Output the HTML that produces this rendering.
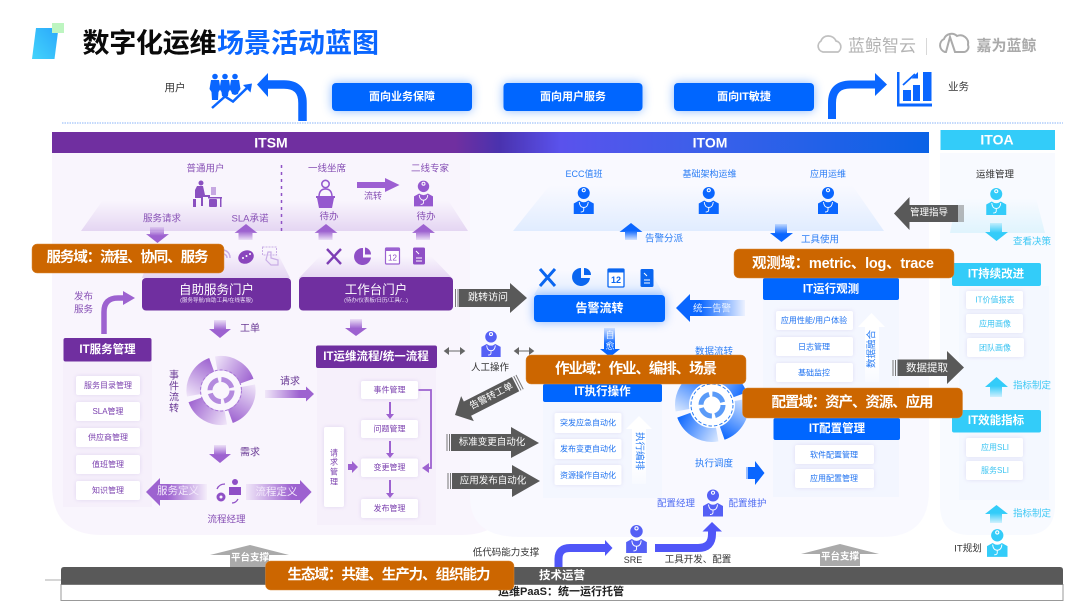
<!DOCTYPE html>
<html lang="zh">
<head>
<meta charset="utf-8">
<title>数字化运维场景活动蓝图</title>
<style>
html,body{margin:0;padding:0;background:#fff;width:1080px;height:608px;overflow:hidden}
svg{display:block;filter:blur(.3px)}
text{font-family:"Liberation Sans","Noto Sans CJK SC",sans-serif;text-anchor:middle;dominant-baseline:central}
.p{fill:#8750b5}
.b{fill:#2a7df5}
.c{fill:#3cc8f5}
.k{fill:#333}
.w{fill:#fff;font-weight:700}
.hp{fill:#702fa0}
.hb{fill:#0066ff}
.hc{fill:#33ccf9}
.item{fill:#fff;filter:drop-shadow(0 0 2px rgba(120,90,190,.16))}
.ip{fill:#7a3fae;font-size:8px}
.ib{fill:#1f72f0;font-size:8px}
.ic{fill:#3cc4f2;font-size:8px}
.glow{filter:drop-shadow(0 0 5px rgba(0,102,255,.45))}
.gw{fill:#fff}
.co{fill:#cc6600;stroke:#d98a3a;stroke-width:.5}
.cot{fill:#fff;font-size:14.5px;font-weight:700}
</style>
</head>
<body>
<svg xmlns="http://www.w3.org/2000/svg" width="1080" height="608" viewBox="0 0 1080 608" font-size="9.5">
<defs>
<linearGradient id="bar" x1="0" x2="1" y1="0" y2="0">
<stop offset="0" stop-color="#702fa0"/><stop offset=".46" stop-color="#702fa0"/><stop offset=".51" stop-color="#4a32ae"/><stop offset=".58" stop-color="#5a52ec"/><stop offset=".75" stop-color="#3a60ea"/><stop offset="1" stop-color="#0a62e6"/>
</linearGradient>
<linearGradient id="logo" x1="0" x2="1" y1="1" y2="0"><stop offset="0" stop-color="#44d4fb"/><stop offset="1" stop-color="#2aa8fb"/></linearGradient>
<linearGradient id="trP" x1="0" x2="0" y1="0" y2="1"><stop offset="0" stop-color="#e6d8f3" stop-opacity="0"/><stop offset="1" stop-color="#e4d5f2"/></linearGradient>
<linearGradient id="trB" x1="0" x2="0" y1="0" y2="1"><stop offset="0" stop-color="#e1edff" stop-opacity="0"/><stop offset="1" stop-color="#e0ecff"/></linearGradient>
<linearGradient id="trC" x1="0" x2="0" y1="0" y2="1"><stop offset="0" stop-color="#dff4fd" stop-opacity="0"/><stop offset="1" stop-color="#dff4fd"/></linearGradient>
<linearGradient id="dP" x1="0" x2="0" y1="0" y2="1"><stop offset="0" stop-color="#a066d2" stop-opacity=".15"/><stop offset=".55" stop-color="#9d62d0"/></linearGradient>
<linearGradient id="uP" x1="0" x2="0" y1="1" y2="0"><stop offset="0" stop-color="#a066d2" stop-opacity=".15"/><stop offset=".55" stop-color="#9d62d0"/></linearGradient>
<linearGradient id="dB" x1="0" x2="0" y1="0" y2="1"><stop offset="0" stop-color="#0a66ff" stop-opacity=".15"/><stop offset=".55" stop-color="#0a66ff"/></linearGradient>
<linearGradient id="uB" x1="0" x2="0" y1="1" y2="0"><stop offset="0" stop-color="#0a66ff" stop-opacity=".15"/><stop offset=".55" stop-color="#0a66ff"/></linearGradient>
<linearGradient id="dC" x1="0" x2="0" y1="0" y2="1"><stop offset="0" stop-color="#33ccf9" stop-opacity=".2"/><stop offset=".55" stop-color="#33ccf9"/></linearGradient>
<linearGradient id="uC" x1="0" x2="0" y1="1" y2="0"><stop offset="0" stop-color="#33ccf9" stop-opacity=".2"/><stop offset=".55" stop-color="#33ccf9"/></linearGradient>
<linearGradient id="rP" x1="0" x2="1" y1="0" y2="0"><stop offset="0" stop-color="#a066d2" stop-opacity=".1"/><stop offset=".7" stop-color="#9d62d0"/></linearGradient>
<linearGradient id="lP" x1="1" x2="0" y1="0" y2="0"><stop offset="0" stop-color="#a066d2" stop-opacity=".05"/><stop offset=".65" stop-color="#9d62d0"/></linearGradient>
<linearGradient id="lB" x1="1" x2="0" y1="0" y2="0"><stop offset="0" stop-color="#0a66ff" stop-opacity=".05"/><stop offset=".65" stop-color="#0a66ff"/></linearGradient>
<linearGradient id="uW" x1="0" x2="0" y1="1" y2="0"><stop offset="0" stop-color="#fff" stop-opacity=".3"/><stop offset=".3" stop-color="#fff"/></linearGradient>
<linearGradient id="arcP" gradientUnits="userSpaceOnUse" x1="-22" x2="22" y1="0" y2="0"><stop offset="0" stop-color="#f0e6f9"/><stop offset="1" stop-color="#9d62d0"/></linearGradient>
<linearGradient id="arcB" gradientUnits="userSpaceOnUse" x1="-22" x2="22" y1="0" y2="0"><stop offset="0" stop-color="#dbe9ff"/><stop offset="1" stop-color="#0a66ff"/></linearGradient>
<symbol id="doc" viewBox="0 0 20 27">
<circle cx="10" cy="6" r="6" fill="currentColor"/>
<circle cx="10" cy="3.200" r="2.100" fill="#fff"/><circle cx="10" cy="3.200" r="1" fill="currentColor"/>
<path d="M0 27V16.500L5.500 13.500Q10 17 14.500 13.500L20 16.500V27z" fill="currentColor"/>
<path d="M5.500 15q.5 5.500 4.500 5.500t4.500-5.500M10 20.500v2.500q0 2-3 2" fill="none" stroke="#fff" stroke-width=".9"/>
</symbol>
<path id="arc" d="M-17.400,-20.700A27,27 0 0 1 17.400,-20.700" fill="none" stroke-width="15"/>
</defs>

<rect width="1080" height="608" fill="#fff"/>

<!-- panels -->
<path d="M52 153H511V485q0 50-50 50H102q-50 0-50-50z" fill="#f9f5fd"/>
<path d="M470 153H929V490q0 47-47 47H520q-50 0-50-40z" fill="#f8f9ff" fill-opacity=".92"/>
<path d="M940 153H1055V505q0 30-30 30H970q-30 0-30-30z" fill="#f8faff"/>
<rect x="63" y="361" width="89" height="146" fill="#f6f0fb"/>
<rect x="317" y="368" width="119" height="157" fill="#f6f0fb"/>
<rect x="543" y="402" width="119" height="96" fill="#f4f7ff"/>
<rect x="763" y="300" width="136" height="96" fill="#f4f7ff"/>
<rect x="773" y="440" width="126" height="57" fill="#f3f6ff"/>
<rect x="959" y="286" width="90" height="214" fill="#f4f8ff"/>

<!-- trapezoids -->
<path d="M103 200H448L468 231H81z" fill="url(#trP)"/>
<path d="M550 185H852L884 231H513z" fill="url(#trB)"/>
<path d="M957 198H1036L1045 233H950z" fill="url(#trC)"/>
<path d="M152 250H276L290 278H142z" fill="url(#trP)"/>
<path d="M320 256H431L452 278H299z" fill="url(#trP)"/>
<path d="M548 270H650L664 295H534z" fill="url(#trB)"/>

<!-- header -->
<path d="M36 28H58.500L54.500 59H32z" fill="url(#logo)"/>
<rect x="52" y="23" width="12" height="10" fill="#bdf5c0"/>
<text x="149.500" y="43.500" font-size="27" font-weight="700" fill="#0a0a0a" textLength="134">数字化运维</text>
<text x="298" y="43.500" font-size="27" font-weight="700" fill="#0a66ff" textLength="162">场景活动蓝图</text>

<path d="M823 52a6 6 0 0 1-2-11a7 7 0 0 1 7-5a8 8 0 0 1 8 5a6 6 0 0 1 2 11z" fill="none" stroke="#c0c0c0" stroke-width="1.700"/>
<text x="882" y="46" font-size="17" fill="#b4b4b4" textLength="68">蓝鲸智云</text>
<rect x="926" y="38" width="1" height="17" fill="#d8d8d8"/>
<path d="M945 52a7 7 0 0 1-1-13a8 8 0 0 1 13-3a8 8 0 0 1 11 9a5 5 0 0 1-5 7h-8l-5-15-4 15z" fill="none" stroke="#ababab" stroke-width="2"/>
<text x="1006.500" y="46" font-size="15" font-weight="700" fill="#aaa" textLength="60">嘉为蓝鲸</text>

<text x="175" y="88" class="k" font-size="10.500">用户</text>
<g fill="#0a66ff">
<circle cx="215" cy="76.500" r="2.800"/><path d="M211 80h8l1.500 9-2 3-.5 8h-6l-.5-8-2-3z"/>
<circle cx="225" cy="76.500" r="2.800"/><path d="M221 80h8l1.500 9-2 3-.5 4-3 1.500-3-1.500-.5-4-2-3z"/>
<circle cx="235" cy="76.500" r="2.800"/><path d="M231 80h8l1.500 9-2 3-.5 2-3 1-3-1-.5-2-2-3z"/>
</g>
<path d="M212 108L225 96.500 233 101.500 249 86" fill="none" stroke="#0a66ff" stroke-width="2.500"/>
<path d="M252 83.500l-1.500 9-7.500-7.500z" fill="#0a66ff"/>

<path d="M302.500 121V103q0-18.500-18.500-18.500H266" fill="none" stroke="#0a66ff" stroke-width="8.500"/>
<path d="M257 84.500L268 73V97z" fill="#0a66ff"/>
<path d="M832 119V103q0-18.500 18.500-18.500H877" fill="none" stroke="#0a66ff" stroke-width="8"/>
<path d="M887 84.500L875 73V96z" fill="#0a66ff"/>
<g fill="#0a66ff">
<path d="M897 72h2.500V103.500H932v3H897z"/><rect x="903" y="90" width="8" height="11"/><rect x="913" y="85" width="7" height="16"/><rect x="923" y="72" width="8.500" height="29"/>
<path d="M903 85L915 74" stroke="#0a66ff" stroke-width="1.800"/><path d="M918 72v6.500h-6.500z"/>
</g>
<text x="958.500" y="87" class="k" font-size="10.500">业务</text>

<g class="glow" fill="#0066ff">
<rect x="332" y="83" width="140" height="28" rx="4"/>
<rect x="503.500" y="83" width="139" height="28" rx="4"/>
<rect x="674" y="83" width="140" height="28" rx="4"/>
</g>
<text x="402" y="97" font-size="11" class="w">面向业务保障</text>
<text x="573" y="97" font-size="11" class="w">面向用户服务</text>
<text x="744" y="97" font-size="11" class="w">面向IT敏捷</text>

<line x1="62" y1="123" x2="1063" y2="123" stroke="#8ab4f8" stroke-width="1" stroke-dasharray="1.500 1"/>

<!-- bars -->
<rect x="52" y="132" width="877" height="21" fill="url(#bar)"/>
<text x="271" y="142.500" font-size="14" class="w">ITSM</text>
<text x="710" y="142.500" font-size="14" class="w">ITOM</text>
<rect x="940.500" y="130" width="114.500" height="20" fill="#33ccf9"/>
<text x="997" y="139.500" font-size="14" class="w">ITOA</text>

<!-- ITSM top -->
<text x="205.500" y="169" class="p">普通用户</text>
<text x="327" y="169" class="p">一线坐席</text>
<text x="430" y="169" class="p">二线专家</text>
<g fill="#8a50c0">
<circle cx="201" cy="183" r="2.500"/><path d="M197 186h6l2 9h5v2h-7v9h-2v-8h-6v-8z"/><path d="M193 186v13h3v8h-3z"/>
<rect x="208" y="197" width="14" height="1.500"/><rect x="220" y="197" width="1.500" height="10"/><rect x="209" y="199" width="8" height="8" rx="1"/><rect x="211" y="187" width="5" height="8" fill="#c7a8e2"/>
</g>
<line x1="281.500" y1="165" x2="281.500" y2="234" stroke="#8f52c6" stroke-width="1.500" stroke-dasharray="3 4"/>
<circle cx="325.500" cy="184" r="3.700" fill="none" stroke="#9558cf" stroke-width="1.600"/>
<path d="M319 197q0-8 6.500-8t6.500 8z" fill="none" stroke="#9558cf" stroke-width="1.500"/>
<path d="M316 196h19v2h-1l-2 10h-13l-2-10h-1z" fill="#9558cf"/>
<path d="M357 182h28v-4l14.500 7-14.500 7v-4h-28z" fill="#9d5fd2"/>
<text x="373" y="196" class="p" font-size="9">流转</text>
<use href="#doc" x="414" y="180" width="19" height="27" color="#9558cf"/>
<text x="162" y="219" class="p">服务请求</text>
<text x="250" y="219" class="p">SLA承诺</text>
<text x="329" y="217" class="p">待办</text>
<text x="426" y="217" class="p">待办</text>
<path d="M150 227h14v7h5l-11.500 9L146 234h4z" fill="url(#dP)"/>
<path d="M238.500 240h14v-7h5l-11.500-9L234.500 233h4z" fill="url(#uP)"/>
<path d="M318.500 240h14v-7h5l-11.500-9L314.500 233h4z" fill="url(#uP)"/>
<path d="M416 240h14v-7h5l-11.500-9L412 233h4z" fill="url(#uP)"/>

<!-- ITSM icon row -->
<path d="M224 250q6 2 6 8" fill="none" stroke="#c9aee6" stroke-width="1.500"/>
<path d="M224 254q3 1 3 4" fill="none" stroke="#c9aee6" stroke-width="1.500"/>
<ellipse cx="246" cy="257" rx="8" ry="6.500" fill="#8a45bd" transform="rotate(-25 246 257)"/>
<g fill="#fff"><circle cx="243" cy="258" r="1"/><circle cx="246.500" cy="256" r="1"/><circle cx="250" cy="254" r="1"/></g>
<rect x="262.500" y="247" width="14" height="8" fill="none" stroke="#c9aee6" stroke-width="1" stroke-dasharray="2 1"/>
<path d="M268 252h3v6l7 2v5h-7l-5-5z" fill="none" stroke="#c9aee6" stroke-width="1.200"/>
<g fill="none" stroke="#7e3fb5" stroke-width="2.400">
<path d="M327 249l14 15M341 249l-14 15"/>
</g>
<path d="M363 248a8.500 8.500 0 1 0 8 9.500h-8z" fill="#8f4fc6"/><path d="M365 247.500a7 7 0 0 1 6 7h-6z" fill="#8f4fc6"/>
<rect x="385.500" y="248" width="14" height="16" fill="#fff" stroke="#9b62d1" stroke-width="1.200" rx="1"/><rect x="385.500" y="248" width="14" height="3" fill="#9b62d1"/>
<text x="392.500" y="258" font-size="8" fill="#8f4fc6">12</text>
<rect x="413" y="247.500" width="12" height="17" rx="1.500" fill="#8f4fc6"/><path d="M416 251l3 3M416 258h6M416 261h6" stroke="#fff" stroke-width="1"/>

<!-- portals -->
<rect x="142" y="278" width="149" height="32.500" rx="4" class="hp"/>
<rect x="299" y="277" width="154" height="33.500" rx="4" class="hp"/>
<text x="216.500" y="290" font-size="12.500" fill="#fff">自助服务门户</text>
<text x="216.500" y="301" font-size="5.500" fill="#ecdff6">(服务导航/自助工具/在线客服)</text>
<text x="376" y="290" font-size="12.500" fill="#fff">工作台门户</text>
<text x="376" y="301" font-size="5.500" fill="#ecdff6">(待办/仪表板/日历/工具/...)</text>

<text x="83.500" y="297" class="p" font-size="9.500">发布</text>
<text x="83.500" y="310" class="p" font-size="9.500">服务</text>
<path d="M104 334V312q0-14 14-14h6" fill="none" stroke="#9d62d0" stroke-width="5.500"/>
<path d="M135 298L123 291V305z" fill="#9d62d0"/>

<rect x="63.500" y="338" width="88" height="23.500" rx="2" class="hp"/>
<text x="107.500" y="350" font-size="11.500" class="w">IT服务管理</text>
<g class="item">
<rect x="76" y="376" width="64" height="19" rx="2"/><rect x="76" y="402" width="64" height="19" rx="2"/><rect x="76" y="428" width="64" height="19" rx="2"/><rect x="76" y="455" width="64" height="19" rx="2"/><rect x="76" y="481" width="64" height="19" rx="2"/>
</g>
<text x="108" y="385.500" class="ip">服务目录管理</text>
<text x="108" y="411.500" class="ip">SLA管理</text>
<text x="108" y="437.500" class="ip">供应商管理</text>
<text x="108" y="464.500" class="ip">值班管理</text>
<text x="108" y="490.500" class="ip">知识管理</text>

<path d="M214 320h12v9h5l-11 9-11-9h5z" fill="url(#dP)"/>
<text x="250" y="329" class="p" font-size="10" style="fill:#6a3a95">工单</text>
<path d="M350 319h12v9h5l-11 8-11-8h5z" fill="url(#dP)"/>
<path d="M214 445h12v9h5l-11 9-11-9h5z" fill="url(#dP)"/>
<text x="250" y="453" class="p" font-size="10" style="fill:#6a3a95">需求</text>
<g class="p" font-size="10" style="fill:#6a3a95"><text x="174" y="376">事</text><text x="174" y="387">件</text><text x="174" y="398">流</text><text x="174" y="409">转</text></g>

<!-- purple ring -->
<g transform="translate(221 390.500)">
<g stroke="url(#arcP)">
<use href="#arc" transform="rotate(30)"/><use href="#arc" transform="rotate(120)"/><use href="#arc" transform="rotate(210)"/><use href="#arc" transform="rotate(300)"/>
</g>
<circle r="20" fill="#faf6fd"/>
<circle r="20.500" fill="none" stroke="#a877d6" stroke-width="1" stroke-dasharray="3 2"/>
<circle r="11" fill="none" stroke="#b48ade" stroke-width="5" stroke-dasharray="14 3.300"/>
</g>

<path d="M265 390h41v-3.500L314 394l-8 7.500V398h-41z" fill="url(#rP)"/>
<text x="290" y="382" class="p" font-size="10" style="fill:#6a3a95">请求</text>

<rect x="316" y="345.500" width="121" height="22.500" rx="2" class="hp"/>
<text x="376" y="357" font-size="11.500" class="w">IT运维流程/统一流程</text>
<g class="item">
<rect x="361" y="381" width="57" height="18" rx="2"/><rect x="361" y="420" width="57" height="18" rx="2"/><rect x="361" y="458.500" width="57" height="18.500" rx="2"/><rect x="361" y="499" width="57" height="19" rx="2"/>
<rect x="324" y="427" width="20" height="80" rx="2"/>
</g>
<text x="389.500" y="390" class="ip">事件管理</text>
<text x="389.500" y="429" class="ip">问题管理</text>
<text x="389.500" y="467.500" class="ip">变更管理</text>
<text x="389.500" y="508.500" class="ip">发布管理</text>
<g class="ip"><text x="334" y="453">请</text><text x="334" y="462">求</text><text x="334" y="472">管</text><text x="334" y="482">理</text></g>
<g fill="#9d62d0">
<path d="M389 402h2v12h3l-4 5-4-5h3z"/><path d="M389 441h2v12h3l-4 5-4-5h3z"/><path d="M389 480h2v13h3l-4 5-4-5h3z"/>
<path d="M348 464h4v-3l6 6-6 6v-3h-4z"/>
<path d="M422 468l7-5v10z"/>
</g>
<path d="M418.500 390H431V468h-6" fill="none" stroke="#9d62d0" stroke-width="1.800"/>

<path d="M146 492L160 478V484H207V500H160V506z" fill="url(#lP)"/>
<text x="178" y="491" font-size="10.500" fill="#f3e9fb">服务定义</text>
<g fill="#8f4fc6">
<circle cx="235" cy="482" r="3"/><path d="M229 487h12v8h-12z"/>
<circle cx="221" cy="497" r="4.500"/><circle cx="221" cy="497" r="1.500" fill="#f9f5fd"/>
</g>
<path d="M217 489q2-5 8-5M232 503q4 0 6-4" fill="none" stroke="#8f4fc6" stroke-width="1.300"/>
<path d="M311.600 492L300 480V484H246V500H300V504z" fill="url(#rP)"/>
<text x="276.500" y="492" font-size="10.500" fill="#f3e9fb">流程定义</text>
<text x="226.500" y="520" class="p" font-size="9.500">流程经理</text>

<!-- ITOM top -->
<text x="584" y="174" class="b" font-size="9">ECC值班</text>
<text x="709.500" y="174" class="b" font-size="9">基础架构运维</text>
<text x="828" y="174" class="b" font-size="9">应用运维</text>
<use href="#doc" x="573.500" y="187" width="20.500" height="27" color="#0a66ff"/>
<use href="#doc" x="698.500" y="187" width="20.500" height="27" color="#0a66ff"/>
<use href="#doc" x="817.500" y="187" width="21" height="27" color="#0a66ff"/>
<path d="M625 240h12v-8h5.500L631 223l-11.500 9H625z" fill="url(#uB)"/>
<text x="664" y="239" class="b">告警分派</text>
<path d="M775 224h12v9h6l-11.500 9-11.500-9h5z" fill="url(#dB)"/>
<text x="820" y="240" class="b">工具使用</text>

<path d="M894 213.500L909.500 197V205H958V222H909.500V230z" fill="#595959"/>
<path d="M959 205v17M961 205v17M963 205v17" stroke="#777" stroke-width="1"/>
<text x="929" y="213" class="gw" font-size="9.500">管理指导</text>

<!-- ITOA -->
<text x="995" y="175" class="k" font-size="9.500">运维管理</text>
<use href="#doc" x="986" y="188" width="20.500" height="27" color="#33ccf9"/>
<path d="M990 223h12v9h6l-11.500 9-11.500-9h5z" fill="url(#dC)"/>
<text x="1032" y="242" class="c">查看决策</text>
<rect x="952" y="263" width="89" height="23" rx="2" class="hc"/>
<text x="996" y="274.500" font-size="11.500" class="w">IT持续改进</text>
<g class="item">
<rect x="966" y="291" width="57" height="18" rx="2"/><rect x="966" y="314" width="57" height="19" rx="2"/><rect x="967" y="338" width="57" height="19" rx="2"/>
<rect x="966" y="438" width="57" height="19" rx="2"/><rect x="966" y="461" width="57" height="19" rx="2"/>
</g>
<text x="995" y="300" class="ic">IT价值报表</text>
<text x="995" y="324" class="ic">应用画像</text>
<text x="995" y="348" class="ic">团队画像</text>
<text x="995" y="447.500" class="ic">应用SLI</text>
<text x="995" y="470.500" class="ic">服务SLI</text>
<path d="M990 397h12v-10h6l-11.500-10-11.500 10h5z" fill="url(#uC)"/>
<text x="1032" y="386" class="c">指标制定</text>
<rect x="952" y="410" width="89" height="22.500" rx="2" class="hc"/>
<text x="996" y="421" font-size="11.500" class="w">IT效能指标</text>
<path d="M990 523h12v-9h6l-11.500-9-11.500 9h5z" fill="url(#uC)"/>
<text x="1032" y="514" class="c">指标制定</text>
<text x="968" y="549" class="k" font-size="9.500">IT规划</text>
<use href="#doc" x="987" y="529" width="20.500" height="28" color="#33ccf9"/>

<!-- middle -->
<path d="M459 289H510V283L527 298L510 313V307H459z" fill="#595959"/>
<path d="M455.500 289v18M458 289v18" stroke="#777" stroke-width="1"/>
<text x="488" y="298" class="gw" font-size="10">跳转访问</text>

<g fill="none" stroke="#0a66f0" stroke-width="3"><path d="M540 269l15 17M555 269l-15 17"/></g>
<path d="M581 268a9 9 0 1 0 9 10h-9z" fill="#0a66f0"/><path d="M584 268a7 7 0 0 1 7 7h-7z" fill="#0a66f0"/>
<rect x="608" y="269" width="16" height="18" fill="#fff" stroke="#0a66f0" stroke-width="1.300" rx="1"/><rect x="608" y="269" width="16" height="3.500" fill="#0a66f0"/>
<text x="616" y="280" font-size="9" fill="#0a66f0" font-weight="700">12</text>
<rect x="640.500" y="269" width="13" height="18" rx="1.500" fill="#0a66f0"/><path d="M644 273l3 3M644 280h6M644 283h6" stroke="#fff" stroke-width="1"/>

<rect x="534" y="295" width="131" height="27" rx="3.500" fill="#0066ff" class="glow"/>
<text x="599.500" y="308" font-size="12" class="w">告警流转</text>
<path d="M676 308L690 294V300H745V316H690V322z" fill="url(#lB)"/>
<text x="712" y="309" font-size="9.500" fill="#e8f1ff">统一告警</text>

<path d="M604 328H615V349H620L610 357L600 349H604z" fill="url(#dB)"/>
<text x="610" y="335" font-size="9" fill="#eef5ff">自</text>
<text x="610" y="346" font-size="9" fill="#eef5ff">愈</text>

<use href="#doc" x="481" y="331" width="20" height="26" color="#5560f5"/>
<text x="490" y="368" class="k" font-size="9.500">人工操作</text>
<g stroke="#666" stroke-width="1" fill="#666">
<path d="M447 351H462"/><path d="M444.500 351l4-3v6zM464.500 351l-4-3v6z"/>
<path d="M517 351H531"/><path d="M514.500 351l4-3v6zM533.500 351l-4-3v6z"/>
</g>

<g transform="translate(455 415) rotate(-27)">
<path d="M0 0L14 -14V-8H68V8H14V14z" fill="#595959"/>
<path d="M70 -8v16M72.500 -8v16" stroke="#777" stroke-width="1"/>
<text x="41" y="0" class="gw" font-size="9.500">告警转工单</text>
</g>

<path d="M451 435H511V428L539 444L511 459V452H451z" fill="#595959" transform="translate(0 -1)"/>
<path d="M447 434v17M449.500 434v17" stroke="#777" stroke-width="1"/>
<text x="492" y="442.500" class="gw" font-size="9.500">标准变更自动化</text>
<path d="M452 473H512V465L540 481L512 497V489H452z" fill="#595959"/>
<path d="M448 473v16M450.500 473v16" stroke="#777" stroke-width="1"/>
<text x="493" y="481" class="gw" font-size="9.500">应用发布自动化</text>

<text x="714" y="352" class="b" font-size="9.500">数据流转</text>

<rect x="543" y="384" width="119" height="18" rx="2" class="hb"/>
<text x="602.500" y="392" font-size="11.500" class="w">IT执行操作</text>
<g class="item">
<rect x="554.500" y="413" width="67" height="20" rx="2"/><rect x="554.500" y="439" width="67" height="20" rx="2"/><rect x="554.500" y="465" width="67" height="20" rx="2"/>
</g>
<text x="588" y="423" class="ib">突发应急自动化</text>
<text x="588" y="449" class="ib">发布变更自动化</text>
<text x="588" y="475.500" class="ib">资源操作自动化</text>
<path d="M639 416L652 429H646V484H632V429H626z" fill="url(#uW)"/>
<text x="639" y="451" class="b" font-size="9.500" transform="rotate(90 639 451)">执行编排</text>

<g transform="translate(712 405)">
<g stroke="url(#arcB)">
<use href="#arc" transform="scale(1.070) rotate(30)"/><use href="#arc" transform="scale(1.070) rotate(120)"/><use href="#arc" transform="scale(1.070) rotate(210)"/><use href="#arc" transform="scale(1.070) rotate(300)"/>
</g>
<circle r="23" fill="#fff"/>
<circle r="21" fill="none" stroke="#2a7df5" stroke-width="1" stroke-dasharray="3.500 2"/>
<circle r="11" fill="none" stroke="#5a9bf8" stroke-width="5" stroke-dasharray="14 3.300"/>
</g>
<text x="714" y="464" class="b" font-size="9.500">执行调度</text>
<path d="M748 467h7v-6l9.500 12-9.500 12v-6h-7z" fill="#0a66ff"/>
<path d="M747 467v12" stroke="#0a66ff" stroke-width=".8"/>

<text x="676" y="504" class="b" font-size="9.500" style="fill:#4f6cf2">配置经理</text>
<use href="#doc" x="703" y="489" width="20" height="28" color="#5560f5"/>
<text x="747.500" y="504" class="b" font-size="9.500" style="fill:#4f6cf2">配置维护</text>
<path d="M655 548H698Q712 548 712 534V528" fill="none" stroke="#5056f8" stroke-width="8"/>
<path d="M712 522L722 531.500H702.500z" fill="#5056f8"/>
<use href="#doc" x="626" y="525" width="21" height="28" color="#5560f5"/>
<text x="633" y="560" class="k" font-size="9">SRE</text>
<text x="698" y="560" class="k" font-size="9.500">工具开发、配置</text>
<path d="M558.500 567V559Q558.500 548 570 548H606" fill="none" stroke="#5056f8" stroke-width="8"/>
<path d="M612.500 548L605 540V556z" fill="#5056f8"/>
<text x="506" y="553" class="k" font-size="9.500">低代码能力支撑</text>

<!-- 观测 -->
<rect x="763" y="278" width="136" height="22" rx="2" class="hb"/>
<text x="831" y="289.500" font-size="11.500" class="w">IT运行观测</text>
<g class="item">
<rect x="776" y="311" width="77" height="19" rx="2"/><rect x="776" y="337" width="77" height="19" rx="2"/><rect x="776" y="363" width="77" height="19" rx="2"/>
</g>
<text x="814" y="320.500" class="ib">应用性能/用户体验</text>
<text x="814" y="347" class="ib">日志管理</text>
<text x="814" y="373" class="ib">基础监控</text>
<path d="M871.500 313L885 327H879V382H865V327H858z" fill="url(#uW)"/>
<text x="872" y="349" class="b" font-size="9.500" transform="rotate(-90 872 349)">数据融合</text>

<path d="M897.500 359.500H947V351L964 367.500L947 384V376H897.500z" fill="#595959"/>
<path d="M893 360v16M895.500 360v16" stroke="#777" stroke-width="1"/>
<text x="927" y="368" class="gw" font-size="10.500">数据提取</text>

<!-- 配置 -->
<rect x="773.500" y="418" width="126.500" height="22" rx="2" class="hb"/>
<text x="837" y="429" font-size="11.500" class="w">IT配置管理</text>
<g class="item"><rect x="795" y="445" width="79" height="19" rx="2"/><rect x="795" y="469" width="79" height="19" rx="2"/></g>
<text x="834" y="455" class="ib">软件配置管理</text>
<text x="834" y="478.500" class="ib">应用配置管理</text>

<!-- bottom -->
<path d="M250 545L289 555H269V567H230V555H210z" fill="#aaaaaa"/>
<text x="250" y="558" font-size="9.500" class="w">平台支撑</text>
<path d="M840 544L879 554H860V566H820V554H801z" fill="#aaaaaa"/>
<text x="840" y="557" font-size="9.500" class="w">平台支撑</text>
<line x1="45" y1="580" x2="61" y2="580" stroke="#999" stroke-width=".8"/>
<rect x="61" y="584.500" width="1002" height="16" fill="#fff" stroke="#999" stroke-width="1"/>
<path d="M61 584.500V570q0-3 3-3H1060q3 0 3 3V584.500z" fill="#595959"/>
<text x="562" y="576" font-size="11.500" class="w">技术运营</text>
<text x="561" y="592" font-size="11" font-weight="700" fill="#222">运维PaaS：统一运行托管</text>

<!-- callouts -->
<rect x="32" y="244" width="192" height="29" rx="5" class="co"/>
<text x="127.500" y="258" class="cot" textLength="162">服务域：流程、协同、服务</text>
<rect x="734" y="249" width="220" height="29" rx="5" class="co"/>
<text x="843" y="264" class="cot" textLength="182">观测域：metric、log、trace</text>
<rect x="526" y="355" width="220" height="29" rx="5" class="co"/>
<text x="636" y="369.500" class="cot" textLength="162">作业域：作业、编排、场景</text>
<rect x="742.500" y="388" width="220" height="30" rx="5" class="co"/>
<text x="852.500" y="403" class="cot" textLength="162">配置域：资产、资源、应用</text>
<rect x="265.500" y="561" width="248.500" height="29" rx="5" class="co"/>
<text x="389" y="575.500" class="cot" textLength="203">生态域：共建、生产力、组织能力</text>
</svg>
</body>
</html>
